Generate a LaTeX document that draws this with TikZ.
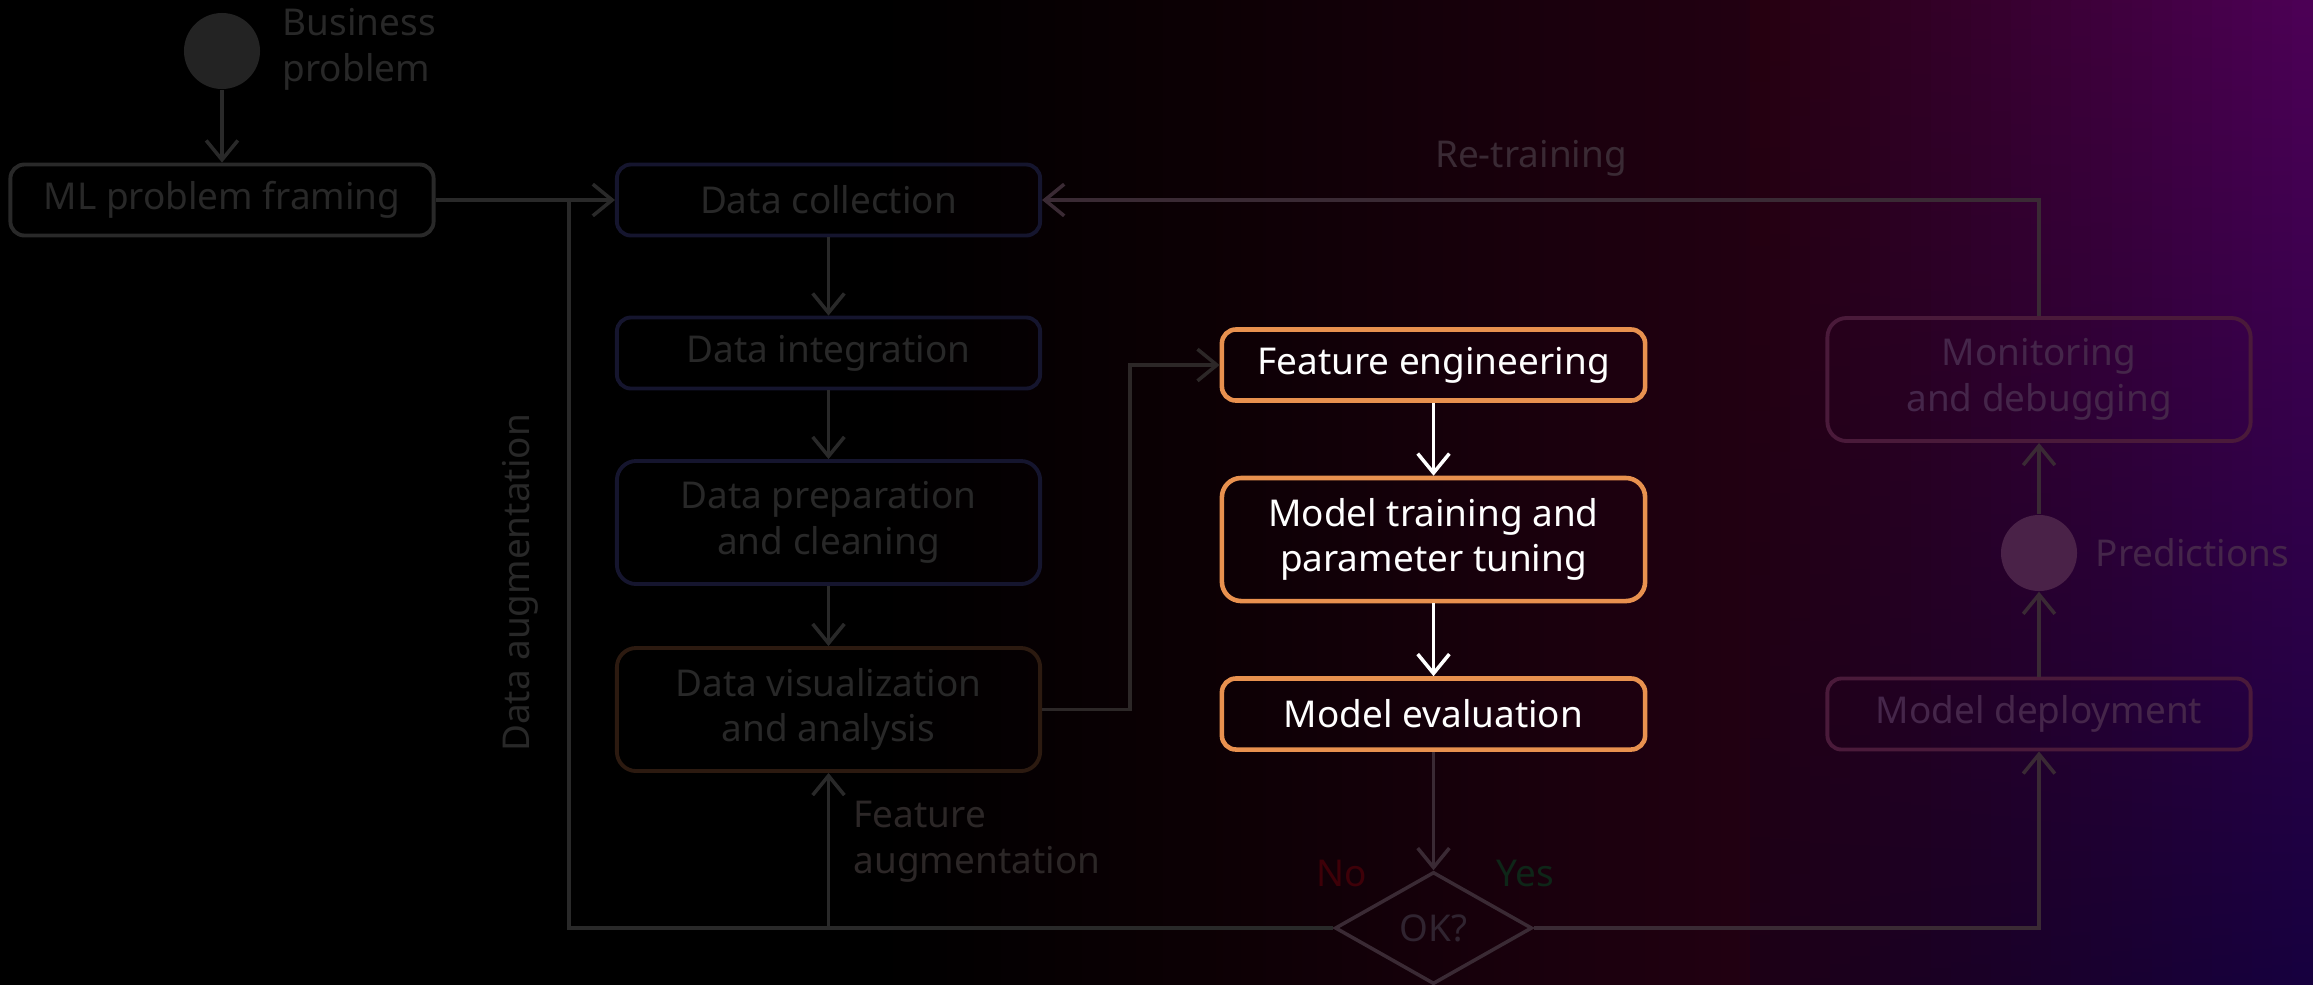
\documentclass[tikz,border=0pt]{standalone}
\usepackage{fontspec}
\setmainfont{Noto Sans}
\usetikzlibrary{arrows.meta,shapes.geometric}

\definecolor{bgdark}{HTML}{0C0004}
\definecolor{bgmaroon}{HTML}{220012}
\definecolor{toplo}{HTML}{260010}
\definecolor{botlo}{HTML}{1C0016}
\definecolor{bgtop}{HTML}{4E0058}
\definecolor{bgbot}{HTML}{160040}
\definecolor{greyline}{HTML}{292929}
\definecolor{greydot}{HTML}{232323}
\definecolor{greytext}{HTML}{282828}
\definecolor{navyedge}{HTML}{15152E}
\definecolor{brownedge}{HTML}{2C1A10}
\definecolor{hotorange}{HTML}{E8914F}
\definecolor{warmline}{HTML}{2C2727}
\definecolor{plumline}{HTML}{3A2A34}
\definecolor{plumedge}{HTML}{4A1A3A}
\definecolor{plumtext}{HTML}{45264A}
\definecolor{plumdot}{HTML}{4A2248}
\definecolor{oktext}{HTML}{302430}
\definecolor{nored}{HTML}{3E0008}
\definecolor{yesgreen}{HTML}{0E2618}

\pgfdeclarehorizontalshading{bgshade}{100bp}{color(0bp)=(black); color(44bp)=(black); color(51bp)=(bgdark); color(63bp)=(bgmaroon); color(75bp)=(bgmaroon); color(100bp)=(bgmaroon)}

\tikzset{
  stagebox/.style={draw, rounded corners=4pt, line width=1.1pt, minimum width=4.23cm,
    minimum height=0.71cm, align=center, inner sep=0pt},
  tallbox/.style={stagebox, minimum height=1.23cm, rounded corners=5.5pt},
  hotbox/.style={draw=hotorange, line width=1.3pt, text=white},
  dimlink/.style={greyline, line width=1pt},
  plumlink/.style={plumline, line width=1pt},
  startdot/.style={circle, minimum size=0.76cm, inner sep=0pt},
  sidelabel/.style={anchor=west, align=left, inner sep=0pt},
}

\begin{document}
\begin{tikzpicture}[x=0.01cm, y=-0.01cm, >={Straight Barb[length=5.5pt,width=9pt]},
    every node/.append style={font=\fontsize{10.5}{13}\selectfont}]

  % 0) Background: dark on the left, plum to the right
  \useasboundingbox (0,0) rectangle (2313,984);
  \shade[shading=bgshade] (0,0) rectangle (2313,984);
  \foreach \i in {0,...,28} {
    \pgfmathtruncatemacro\p{100*\i/28}
    \pgfmathsetmacro\xa{1750+\i*20.1}
    \shade[top color=bgtop!\p!toplo, bottom color=bgbot!\p!botlo] (\xa,0) rectangle (\xa+21,984);
  }

  % 1) Start: business problem and framing
  \node[startdot, fill=greydot] (bizprob) at (222,51) {};
  \node[sidelabel, text=greytext] (bizlabel) at (282,49) {Business\\problem};
  \node[stagebox, draw=greyline, text=greytext] (mlframe) at (222,200) {ML problem framing};

  % 2) Data column
  \node[stagebox, draw=navyedge, text=greytext] (datacoll) at (828.5,200) {Data collection};
  \node[stagebox, draw=navyedge, text=greytext] (dataint) at (828.5,353) {Data integration};
  \node[tallbox, draw=navyedge, text=greytext] (dataprep) at (828.5,522.5) {Data preparation\\and cleaning};
  \node[tallbox, draw=brownedge, text=greytext] (datavis) at (828.5,709.5) {Data visualization\\and analysis};

  % 3) Model column (highlighted)
  \node[stagebox, hotbox] (feateng) at (1433.5,365) {Feature engineering};
  \node[tallbox, hotbox] (modeltrain) at (1433.5,539.5) {Model training and\\parameter tuning};
  \node[stagebox, hotbox] (modeleval) at (1433.5,714) {Model evaluation};
  \node[diamond, draw=plumline, line width=1pt, minimum width=1.97cm, minimum height=1.12cm,
    inner sep=0pt, text=oktext] (okcheck) at (1433.5,928) {OK?};

  % 4) Deployment column
  \node[stagebox, draw=plumedge, text=plumtext] (modeldeploy) at (2039,714) {Model deployment};
  \node[startdot, fill=plumdot] (predict) at (2039,553) {};
  \node[sidelabel, text=plumtext] (predlabel) at (2095,553) {Predictions};
  \node[tallbox, draw=plumedge, text=plumtext] (monitor) at (2039,379.5) {Monitoring\\and debugging};

  % 5) Helper points for the loops
  \coordinate (augtop) at (569,200);
  \coordinate (augbot) at (569,928);
  \coordinate (featjoin) at (828.5,928);
  \coordinate (visbend) at (1130,709.5);

  % 6) Connectors
  \draw[dimlink,->] (bizprob) -- (mlframe);
  \draw[dimlink,->] (mlframe) -- (datacoll);
  \draw[dimlink,->] (datacoll) -- (dataint);
  \draw[dimlink,->] (dataint) -- (dataprep);
  \draw[dimlink,->] (dataprep) -- (datavis);
  \draw[warmline, line width=1pt, ->] (datavis.east) -- (visbend) |- (feateng.west);
  \draw[white, line width=1pt, ->] (feateng) -- (modeltrain);
  \draw[white, line width=1pt, ->] (modeltrain) -- (modeleval);
  \draw[plumlink,->] (modeleval) -- (okcheck);
  \draw[dimlink] (okcheck.west) -- (augbot) -- (augtop);
  \draw[dimlink,->] (featjoin) -- (datavis);
  \draw[plumlink,->] (okcheck.east) -| (modeldeploy.south);
  \draw[plumlink,->] (modeldeploy) -- (predict);
  \draw[plumlink,->] (predict) -- (monitor);
  \draw[plumlink,->] (monitor.north) |- (datacoll.east);

  % 7) Loop labels
  \node[text=plumline] (retrain) at (1531,158) {Re-training};
  \node[rotate=90, text=greytext] (dataaug) at (520,583) {Data augmentation};
  \node[sidelabel, text=warmline] (feataug) at (853,842) {Feature\\augmentation};
  \node[text=nored] (nolabel) at (1342,873) {No};
  \node[text=yesgreen] (yeslabel) at (1525,873) {Yes};

\end{tikzpicture}
\end{document}
